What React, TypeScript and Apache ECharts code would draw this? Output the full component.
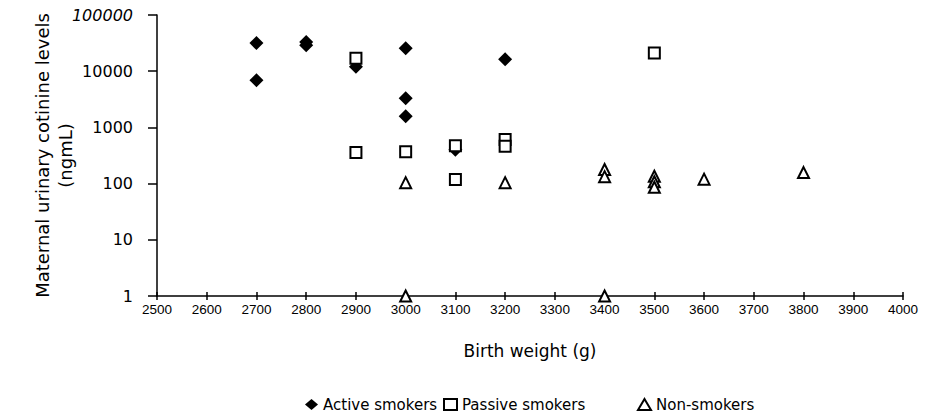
import React, { useEffect, useRef } from "react";
import * as echarts from "echarts";

const xTicks = [2500, 2600, 2700, 2800, 2900, 3000, 3100, 3200, 3300, 3400, 3500, 3600, 3700, 3800, 3900, 4000];
const yTicks = [1, 10, 100, 1000, 10000, 100000];

const activeSmokers: [number, number][] = [
  [2700, 31600], [2700, 6900], [2800, 33000], [2800, 29000], [2900, 12000],
  [3000, 25700], [3000, 3300], [3000, 1580], [3100, 400], [3200, 16300],
];
const passiveSmokers: [number, number][] = [
  [2900, 17000], [2900, 357], [3000, 370], [3100, 470], [3100, 118],
  [3200, 610], [3200, 460], [3500, 21000],
];
const nonSmokers: [number, number][] = [
  [3000, 104], [3000, 1], [3200, 104], [3400, 178], [3400, 133], [3400, 1],
  [3500, 135], [3500, 108], [3500, 86], [3600, 120], [3800, 157],
];

const seriesNames = ["Active smokers", "Passive smokers", "Non-smokers"];
const legendLefts = [300, 438, 632];
const FONT = "'DejaVu Sans', sans-serif";

export default function App() {
  const ref = useRef<HTMLDivElement>(null);
  useEffect(() => {
    document.body.style.margin = "0";
    const chart = echarts.init(ref.current!, null, { renderer: "svg" });
    const hollow = { color: "#fff", borderColor: "#000", borderWidth: 2, opacity: 1 };
    chart.setOption({
      animation: false,
      backgroundColor: "#fff",
      grid: { left: 157, right: 22, top: 15, bottom: 120, containLabel: false },
      legend: seriesNames.map((n, i) => ({
        left: legendLefts[i],
        top: 392,
        itemWidth: 13,
        itemHeight: 11,
        itemGap: 9,
        textStyle: { fontFamily: FONT, fontSize: 15, color: "#000" },
        data: [n],
      })),
      xAxis: [
        {
          type: "value",
          min: 2500,
          max: 4000,
          interval: 100,
          name: "Birth weight (g)",
          nameLocation: "middle",
          nameGap: 46,
          nameTextStyle: { fontFamily: FONT, fontSize: 17, color: "#000" },
          axisLine: { show: true, onZero: false, lineStyle: { color: "#000", width: 1.5 } },
          axisTick: { show: true, inside: false, length: 4, lineStyle: { color: "#000", width: 1.5 } },
          axisLabel: {
            margin: 6,
            color: "#000",
            fontSize: 13.5,
            fontFamily: "'Liberation Sans', Arial, sans-serif",
            formatter: (v: number) => String(v),
          },
          splitLine: { show: false },
        },
        {
          type: "value",
          min: 2500,
          max: 4000,
          interval: 100,
          position: "bottom",
          axisLine: { show: false, onZero: false },
          axisTick: { show: true, inside: true, length: 4, lineStyle: { color: "#000", width: 1.5 } },
          axisLabel: { show: false },
          splitLine: { show: false },
        },
      ],
      yAxis: {
        type: "log",
        logBase: 10,
        min: 1,
        max: 100000,
        name: "Maternal urinary cotinine levels\n(ngmL)",
        nameLocation: "middle",
        nameGap: 80,
        nameMoveOverlap: false,
        nameRotate: 90,
        nameTextStyle: { fontFamily: FONT, fontSize: 18, color: "#000", lineHeight: 23, align: "center" },
        axisLine: { show: true, lineStyle: { color: "#000", width: 1.5 } },
        axisTick: { show: true, length: 9, lineStyle: { color: "#000", width: 1.5 } },
        axisLabel: {
          margin: 24,
          color: "#000",
          fontSize: 16,
          fontFamily: FONT,
          formatter: (v: number) => {
            const r = Math.round(v);
            return r === 100000 ? "{i|" + r + "}" : String(r);
          },
          rich: { i: { fontStyle: "italic", fontSize: 16, fontFamily: FONT, color: "#000" } },
        },
        splitLine: { show: false },
      },
      series: [
        {
          name: seriesNames[0],
          type: "scatter",
          symbol: "diamond",
          symbolSize: 14,
          itemStyle: { color: "#000", opacity: 1 },
          data: activeSmokers,
        },
        {
          name: seriesNames[1],
          type: "scatter",
          symbol: "rect",
          symbolSize: 11,
          itemStyle: hollow,
          data: passiveSmokers,
        },
        {
          name: seriesNames[2],
          type: "scatter",
          symbol: "triangle",
          symbolSize: 11,
          itemStyle: hollow,
          data: nonSmokers,
        },
      ],
    });
    return () => chart.dispose();
  }, []);
  return <div ref={ref} style={{ width: 925, height: 416 }} />;
}
